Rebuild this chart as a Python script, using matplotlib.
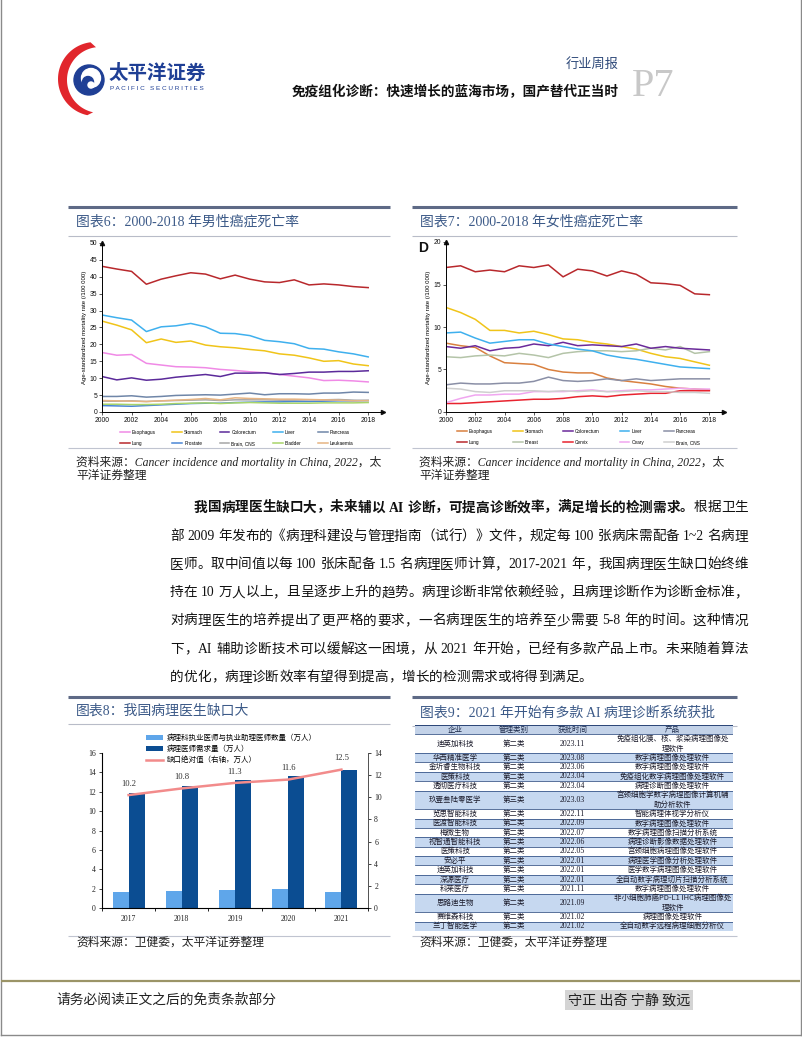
import matplotlib
matplotlib.use('Agg')
import matplotlib.pyplot as plt
import numpy as np
from matplotlib.patches import Rectangle, Circle, Polygon

# ---------------- DATA ----------------
years = list(range(2000, 2019))

# Figure 6: male cancer mortality (per 100 000)
male_lung = [43.1, 42.3, 41.6, 37.8, 39.3, 40.3, 41.2, 40.8, 39.4, 40.5, 39.3, 38.5, 38.3, 39.1, 37.6, 37.9, 37.6, 37.1, 36.8]
male_liver = [28.7, 27.9, 27.2, 23.8, 25.2, 25.5, 26.2, 25.2, 23.3, 23.2, 22.6, 21.2, 20.8, 20.2, 18.8, 18.6, 17.8, 17.2, 16.3]
male_stomach = [26.9, 25.7, 24.3, 20.5, 21.6, 20.6, 21.0, 19.8, 19.3, 19.0, 18.5, 18.1, 17.2, 16.8, 16.0, 15.0, 15.2, 14.2, 13.7]
male_esophagus = [17.6, 16.8, 17.0, 14.4, 13.9, 13.4, 13.3, 13.1, 12.6, 12.3, 11.9, 11.6, 11.1, 10.6, 10.1, 9.3, 9.4, 9.2, 8.9]
male_colorectum = [10.5, 9.5, 10.1, 9.4, 9.7, 10.3, 10.7, 11.1, 10.5, 11.5, 11.5, 11.6, 11.1, 11.4, 11.8, 11.8, 12.0, 12.0, 12.2]
male_pancreas = [4.6, 4.6, 4.8, 4.4, 4.6, 4.9, 5.0, 5.1, 5.0, 5.3, 5.6, 5.1, 5.4, 5.4, 5.3, 5.6, 5.6, 5.9, 5.8]
male_leukaemia = [3.4, 3.3, 3.2, 3.1, 3.3, 3.5, 3.7, 4.0, 3.6, 4.2, 4.0, 3.9, 3.8, 3.8, 3.7, 3.6, 3.5, 3.3, 3.4]
male_brain = [3.2, 3.2, 3.3, 3.1, 3.3, 3.4, 3.5, 3.6, 3.4, 3.6, 3.6, 3.6, 3.5, 3.5, 3.6, 3.6, 3.7, 3.5, 3.4]
male_prostate = [1.9, 1.8, 1.7, 1.9, 2.1, 2.3, 2.5, 2.6, 2.6, 2.8, 2.9, 3.0, 3.0, 3.1, 3.1, 3.2, 3.3, 3.3, 3.4]
male_bladder = [2.3, 2.3, 2.2, 2.2, 2.3, 2.5, 2.6, 2.7, 2.5, 2.7, 2.8, 2.7, 2.6, 2.6, 2.6, 2.7, 2.7, 2.7, 2.8]

# Figure 7: female cancer mortality (per 100 000)
fem_lung = [17.0, 17.2, 16.5, 16.7, 16.5, 17.2, 17.0, 17.3, 15.9, 16.8, 16.6, 16.0, 16.6, 16.2, 15.2, 15.1, 14.9, 13.9, 13.8]
fem_stomach = [12.3, 11.7, 10.9, 9.6, 9.6, 9.3, 9.5, 9.1, 8.6, 8.5, 8.2, 8.0, 7.7, 7.4, 6.9, 6.5, 6.3, 5.9, 5.5]
fem_liver = [9.3, 9.4, 8.7, 8.1, 8.3, 8.5, 8.5, 8.0, 7.7, 7.4, 7.2, 6.7, 6.4, 6.2, 5.9, 5.6, 5.3, 5.2, 5.1]
fem_colorectum = [7.7, 7.5, 7.8, 7.2, 7.5, 7.6, 8.0, 7.8, 8.2, 7.8, 7.9, 7.8, 7.7, 8.0, 7.5, 7.7, 7.5, 7.4, 7.3]
fem_esophagus = [8.1, 7.8, 7.6, 6.6, 5.8, 5.7, 5.6, 5.0, 4.7, 4.6, 4.6, 4.0, 3.7, 3.5, 3.3, 3.0, 2.8, 2.7, 2.6]
fem_pancreas = [3.2, 3.4, 3.3, 3.3, 3.4, 3.4, 3.6, 4.1, 3.7, 3.6, 3.7, 3.9, 3.7, 3.9, 3.7, 3.8, 3.9, 3.9, 3.9]
fem_breast = [6.5, 6.4, 6.6, 6.7, 6.6, 6.9, 6.7, 6.4, 6.9, 7.1, 7.2, 7.2, 7.1, 7.2, 7.5, 7.3, 7.7, 6.9, 7.1]
fem_brain = [2.8, 2.7, 2.4, 2.3, 2.5, 2.5, 2.5, 2.4, 2.5, 2.4, 2.5, 2.4, 2.4, 2.5, 2.4, 2.4, 2.3, 2.3, 2.2]
fem_ovary = [1.1, 1.6, 2.0, 2.0, 2.1, 2.1, 2.4, 2.4, 2.4, 2.5, 2.6, 2.4, 2.5, 2.6, 2.6, 2.7, 2.8, 2.7, 2.7]
fem_cervix = [1.0, 1.0, 1.1, 1.2, 1.3, 1.4, 1.5, 1.5, 1.6, 1.8, 1.9, 1.8, 2.0, 2.1, 2.2, 2.2, 2.5, 2.5, 2.5]

# Figure 8: pathologist shortage
f8_years = ['2017', '2018', '2019', '2020', '2021']
f8_count = [1.7, 1.8, 1.9, 2.0, 1.7]       # 万人
f8_need = [11.9, 12.6, 13.2, 13.6, 14.2]   # 万人
f8_gap = [10.2, 10.8, 11.3, 11.6, 12.5]    # 万人, right axis

# Figure 9: approved AI pathology systems
t9_header = ['企业', '管理类别', '获批时间', '产品']
t9_company = ['迪英加科技', '华西精准医学', '金圻睿生物科技', '医策科技', '透彻医疗科技', '玖壹叁陆零医学',
              '览思智能科技', '医渡智能科技', '梅微生物', '视智通智能科技', '医策科技', '安必平',
              '迪英加科技', '深源医疗', '科莱医疗', '思路迪生物', '赛维森科技', '兰丁智能医学']
t9_class = ['第二类'] * 5 + ['第三类'] + ['第二类'] * 12
t9_date = ['2023.11', '2023.08', '2023.06', '2023.04', '2023.04', '2023.03', '2022.11', '2022.09',
           '2022.07', '2022.06', '2022.05', '2022.01', '2022.01', '2022.01', '2021.11', '2021.09',
           '2021.02', '2021.02']
t9_product = ['免疫组化膜、核、浆染病理图像处\n理软件', '数字病理图像处理软件', '数字病理图像处理软件',
              '免疫组化数字病理图像处理软件', '病理诊断图像处理软件', '宫颈细胞学数字病理图像计算机辅\n助分析软件',
              '智能病理体视学分析仪', '数字病理图像处理软件', '数字病理图像扫描分析系统',
              '病理诊断影像数据处理软件', '宫颈细胞病理图像处理软件', '病理医学图像分析处理软件',
              '医学数字病理图像处理软件', '全自动数字病理切片扫描分析系统', '数字病理图像处理软件',
              '非小细胞肺癌PD-L1 IHC病理图像处\n理软件', '病理图像处理软件', '全自动数字远程病理细胞分析仪']

para_bold = '我国病理医生缺口大，未来辅以 AI 诊断，可提高诊断效率，满足增长的检测需求。'
para_first_rest = '根据卫生'
para_lines = [
    '部 2009 年发布的《病理科建设与管理指南（试行）》文件，规定每 100 张病床需配备 1~2 名病理',
    '医师。取中间值以每 100 张床配备 1.5 名病理医师计算，2017-2021 年，我国病理医生缺口始终维',
    '持在 10 万人以上，且呈逐步上升的趋势。病理诊断非常依赖经验，且病理诊断作为诊断金标准，',
    '对病理医生的培养提出了更严格的要求，一名病理医生的培养至少需要 5-8 年的时间。这种情况',
    '下，AI 辅助诊断技术可以缓解这一困境，从 2021 年开始，已经有多款产品上市。未来随着算法',
    '的优化，病理诊断效率有望得到提高，增长的检测需求或将得到满足。',
]

# ---------------- LAYOUT ----------------
plt.rcParams['font.family'] = ['Liberation Sans', 'Noto Sans CJK SC', 'DejaVu Sans']
CJK = ['Noto Sans CJK SC', 'DejaVu Sans']
SERIF = ['Liberation Serif', 'Noto Sans CJK SC', 'DejaVu Sans']
SANS = ['Liberation Sans', 'Noto Sans CJK SC', 'DejaVu Sans']

W, H = 802, 1037
fig = plt.figure(figsize=(W / 100, H / 100), dpi=100)

ov = fig.add_axes([0, 0, 1, 1])
ov.set_xlim(0, W)
ov.set_ylim(H, 0)
ov.axis('off')


def pxax(x0, y0, x1, y1):
    return fig.add_axes([x0 / W, 1 - y1 / H, (x1 - x0) / W, (y1 - y0) / H])


def hline(y, x0, x1, color, lw):
    ov.plot([x0, x1], [y, y], color=color, lw=lw, solid_capstyle='butt')


# page frame
ov.plot([1, 1], [0, 1035], color='#8a8a8a', lw=1)
ov.plot([800.5, 800.5], [0, 1035], color='#8a8a8a', lw=1)
ov.plot([1, 800.5], [1035, 1035], color='#8a8a8a', lw=1)

# ---- header logo ----
th = np.linspace(np.deg2rad(97), np.deg2rad(258), 60)
outer = np.c_[95 + 37 * np.cos(th), 79 - 37 * np.sin(th)]
th2 = th[::-1]
inner = np.c_[100 + 33 * np.cos(th2), 80 - 33 * np.sin(th2)]
ov.add_patch(Polygon(np.vstack([outer, inner]), closed=True, color='#e1262c', lw=0))
ov.add_patch(Circle((89, 80), 15, color='#1f3f95'))
ov.add_patch(Circle((91, 78), 9.5, color='white'))
ov.add_patch(Circle((88, 82), 5.5, color='#1f3f95'))
ov.add_patch(Circle((91, 85), 3, color='white'))
ov.text(109, 73, '太平洋证券', fontsize=14, fontweight='bold', color='#1f3f95', family=CJK, va='center')
ov.text(110, 89, 'P A C I F I C   S E C U R I T I E S', fontsize=4.6, color='#1f3f95', family=SANS, va='center')

ov.text(619, 64, '行业周报', fontsize=9.5, color='#2f4a7a', family=CJK, ha='right', va='center')
ov.text(619, 92, '免疫组化诊断：快速增长的蓝海市场，国产替代正当时', fontsize=9.8, fontweight='bold',
        color='#111111', family=CJK, ha='right', va='center')
ov.text(632, 86, 'P7', fontsize=29, color='#c8c8c8', family=['Liberation Serif'], va='center')


# ---- figure title blocks ----
def title_block(x0, x1, ytop, ytitle, ybot, text):
    hline(ytop, x0, x1, '#5e6a86', 2.2)
    ov.text(x0 + 8, ytitle, text, fontsize=10, color='#3c5a88', family=SERIF, va='center')
    hline(ybot, x0, x1, '#b8bcc8', 0.8)


CAP = 8.5
title_block(68, 390, 207, 222, 236, '图表6：2000-2018 年男性癌症死亡率')
title_block(412, 737, 207, 222, 236, '图表7：2000-2018 年女性癌症死亡率')
hline(448, 68, 390, '#c0c4d0', 0.8)
hline(448, 412, 737, '#c0c4d0', 0.8)
for cx in (76, 419):
    ov.text(cx, 462, '资料来源：Cancer incidence and mortality in China, 2022，太', fontsize=CAP, style='italic',
            color='#222222', family=SERIF, va='center')
    ov.text(cx, 476, '平洋证券整理', fontsize=CAP, color='#222222', family=SERIF, va='center')

title_block(68, 390, 697, 711, 724, '图表8：我国病理医生缺口大')
title_block(412, 737, 697, 713, 726, '图表9：2021 年开始有多款 AI 病理诊断系统获批')
hline(936, 68, 390, '#c0c4d0', 0.8)
hline(936, 412, 737, '#c0c4d0', 0.8)
for cx in (76, 419):
    ov.text(cx, 943, '资料来源：卫健委，太平洋证券整理', fontsize=CAP, style='italic', color='#222222',
            family=SERIF, va='center')

# ---- paragraph (justified) ----
PFS = 9.8
PX0, PX1 = 170, 748
SP = PFS * 100 / 72 * 0.28


def tokenize(s, weight):
    toks, buf = [], ''
    for ch in s:
        if ch == ' ':
            if buf:
                toks.append((buf, weight))
                buf = ''
            toks.append((' ', weight))
        elif ord(ch) < 128:
            buf += ch
        else:
            if buf:
                toks.append((buf, weight))
                buf = ''
            toks.append((ch, weight))
    if buf:
        toks.append((buf, weight))
    return toks


para_rows = [(194, 508, tokenize(para_bold, 'bold') + tokenize(para_first_rest, 'normal'), True)]
for i, line in enumerate(para_lines):
    para_rows.append((PX0, 536.3 + i * 28.2, tokenize(line, 'normal'), i < len(para_lines) - 1))

placed = []
for x0, yy, toks, justify in para_rows:
    arts = []
    for s, wgt in toks:
        if s == ' ':
            arts.append(None)
        else:
            arts.append(ov.text(0, yy, s, fontsize=PFS, fontweight=wgt, color='#111111', family=SERIF,
                                va='center', ha='left'))
    placed.append((x0, arts, justify))

fig.canvas.draw()
rend = fig.canvas.get_renderer()
for x0, arts, justify in placed:
    widths = [SP if a is None else a.get_window_extent(rend).width for a in arts]
    nat = sum(widths)
    extra = (PX1 - x0 - nat) / max(len(arts) - 1, 1) if justify else 0.0
    xx = x0
    for a, wdt in zip(arts, widths):
        if a is not None:
            a.set_x(xx)
        xx += wdt + extra

# ---- footer ----
hline(981, 1, 800, '#9b9467', 1.6)
ov.text(56, 1000, '请务必阅读正文之后的免责条款部分', fontsize=9.9, color='#222222', family=CJK, va='center')
ov.text(568, 1000, '守正 出奇 宁静 致远', fontsize=10.2, color='#222222', family=CJK, va='center',
        bbox=dict(boxstyle='square,pad=0.2', fc='#d4d4d4', ec='none'))


# ---------------- line charts ----------------
def style_line_ax(ax, ymax, ystep):
    ax.set_xlim(2000, 2019)
    ax.set_ylim(0, ymax)
    ax.set_xticks(range(2000, 2019, 2))
    ax.set_yticks(np.arange(0, ymax + 0.1, ystep))
    for s in ['top', 'right']:
        ax.spines[s].set_visible(False)
    for s in ['left', 'bottom']:
        ax.spines[s].set_linewidth(0.7)
    ax.tick_params(labelsize=4.9, length=2, width=0.5, pad=1.5, colors='#111111')
    ax.set_facecolor('none')
    ax.plot(1, 0, marker='>', ms=3, color='#111111', transform=ax.transAxes, clip_on=False)
    ax.plot(0, 1, marker='^', ms=3, color='#111111', transform=ax.transAxes, clip_on=False)
    ax.set_ylabel('Age-standardized mortality rate (/100 000)', fontsize=4.3, labelpad=1.5)


LEG = dict(ncol=5, loc='upper left', bbox_transform=fig.transFigure, fontsize=3.4, frameon=False,
           handlelength=2.1, labelspacing=1.25, handletextpad=0.4, borderpad=0, borderaxespad=0)

ax6 = pxax(102, 243, 383, 412)
male_series = [
    ('Esophagus', male_esophagus, '#f08ae6'),
    ('Lung', male_lung, '#b8282c'),
    ('Stomach', male_stomach, '#f0c419'),
    ('Prostate', male_prostate, '#4a86d6'),
    ('Colorectum', male_colorectum, '#5b2a9a'),
    ('Brain, CNS', male_brain, '#a6a6a6'),
    ('Liver', male_liver, '#3fb0ee'),
    ('Bladder', male_bladder, '#a8d46a'),
    ('Pancreas', male_pancreas, '#6f86a8'),
    ('Leukaemia', male_leukaemia, '#e6b483'),
]
for name, vals, col in male_series:
    ax6.plot(years, vals, color=col, lw=1.1, label=name)
style_line_ax(ax6, 50, 5)
ax6.legend(bbox_to_anchor=(120 / W, 1 - 430 / H), columnspacing=3.5, **LEG)

ax7 = pxax(446, 242, 724, 412)
fem_series = [
    ('Esophagus', fem_esophagus, '#d9803f'),
    ('Lung', fem_lung, '#b8282c'),
    ('Stomach', fem_stomach, '#f0c419'),
    ('Breast', fem_breast, '#b4c4a8'),
    ('Colorectum', fem_colorectum, '#6a2a9a'),
    ('Cervix', fem_cervix, '#e8232f'),
    ('Liver', fem_liver, '#3fb0ee'),
    ('Ovary', fem_ovary, '#f0a6f0'),
    ('Pancreas', fem_pancreas, '#8a8fa6'),
    ('Brain, CNS', fem_brain, '#cfcfcf'),
]
for name, vals, col in fem_series:
    ax7.plot(years, vals, color=col, lw=1.1, label=name)
style_line_ax(ax7, 20, 5)
ax7.legend(bbox_to_anchor=(457 / W, 1 - 429 / H), columnspacing=4.2, **LEG)
ov.text(418, 248, 'D', fontsize=10, fontweight='bold', color='#111111', family=SANS, va='center')

# ---------------- figure 8 ----------------
ax8 = pxax(102, 753, 368, 908)
x = np.arange(len(f8_years))
bw = 0.3
b1 = ax8.bar(x - bw / 2, f8_count, width=bw, color='#5fa6ea', label='病理科执业医师与执业助理医师数量（万人）')
b2 = ax8.bar(x + bw / 2, f8_need, width=bw, color='#0b4d92', label='病理医师需求量（万人）')
ax8.set_xlim(-0.315, 4.48)
ax8.set_ylim(0, 16)
ax8.set_yticks(range(0, 17, 2))
ax8.set_xticks(x)
ax8.set_xticklabels(f8_years)
ax8.set_xticks(np.arange(-0.5, 4.6, 1), minor=True)
ax8.spines['top'].set_visible(False)
for s in ['left', 'bottom', 'right']:
    ax8.spines[s].set_color('#555555')
    ax8.spines[s].set_linewidth(0.7)
ax8.tick_params(axis='both', labelsize=5.6, length=2.5, width=0.6, colors='#222222', pad=2)
ax8.tick_params(axis='x', which='major', length=0, pad=5)
ax8.tick_params(axis='x', which='minor', length=2.5, width=0.6)
for lab in ax8.get_xticklabels() + ax8.get_yticklabels():
    lab.set_family(SERIF)
ax8r = ax8.twinx()
ln, = ax8r.plot(x, f8_gap, color='#f28b8b', lw=1.8, label='缺口绝对值（右轴，万人）')
ax8r.set_ylim(0, 14)
ax8r.set_yticks(range(0, 15, 2))
ax8r.spines['top'].set_visible(False)
ax8r.spines['right'].set_color('#555555')
ax8r.spines['right'].set_linewidth(0.7)
ax8r.tick_params(labelsize=5.6, length=2.5, width=0.6, colors='#222222', pad=2)
for lab in ax8r.get_yticklabels():
    lab.set_family(SERIF)
for xi, g in zip(x, f8_gap):
    ax8r.annotate(f'{g}', (xi, g), xytext=(0, 8), textcoords='offset points', ha='center', va='center',
                  fontsize=6.2, family=SERIF, color='#333333')
ax8.legend([b1, b2, ln], [b1.get_label(), b2.get_label(), ln.get_label()], loc='upper left',
           bbox_to_anchor=(146 / W, 1 - 734 / H), bbox_transform=fig.transFigure, frameon=False,
           prop={'family': CJK, 'size': 5.4}, handlelength=2.2, handleheight=0.6, labelspacing=0.42,
           handletextpad=0.6, borderpad=0, borderaxespad=0)

# ---------------- figure 9 table ----------------
ax9 = pxax(415, 725, 733, 931)
ax9.axis('off')
col_edges = [415, 495, 533, 612, 733]
heights = [1] + [2 if '\n' in p else 1 for p in t9_product]
total = sum(heights)
ax9.set_xlim(415, 733)
ax9.set_ylim(total, 0)
ax9.add_patch(Rectangle((415, 0), 318, 1, color='#c3d2e8', lw=0))
for j, htxt in enumerate(t9_header):
    ax9.text((col_edges[j] + col_edges[j + 1]) / 2, 0.5, htxt, ha='center', va='center', fontsize=5.4,
             family=CJK, color='#1c2a4a')
y = 1
for i in range(len(t9_company)):
    hgt = heights[i + 1]
    if i % 2 == 1:
        ax9.add_patch(Rectangle((415, y), 318, hgt, color='#c6d8f0', lw=0))
    cells = [t9_company[i], t9_class[i], t9_date[i], t9_product[i]]
    for j, c in enumerate(cells):
        ax9.text((col_edges[j] + col_edges[j + 1]) / 2, y + hgt / 2, c, ha='center', va='center',
                 fontsize=5.4 if j != 2 else 5.7, family=(SERIF if j == 2 else CJK), color='#1a1a2a',
                 linespacing=1.25)
    y += hgt
cum = np.cumsum(heights)
ax9.plot([415, 733], [0, 0], color='#1f3a6e', lw=1.3)
for c in cum:
    ax9.plot([415, 733], [c, c], color='#2b4a80', lw=0.55)

fig.savefig('out.png', dpi=100)
